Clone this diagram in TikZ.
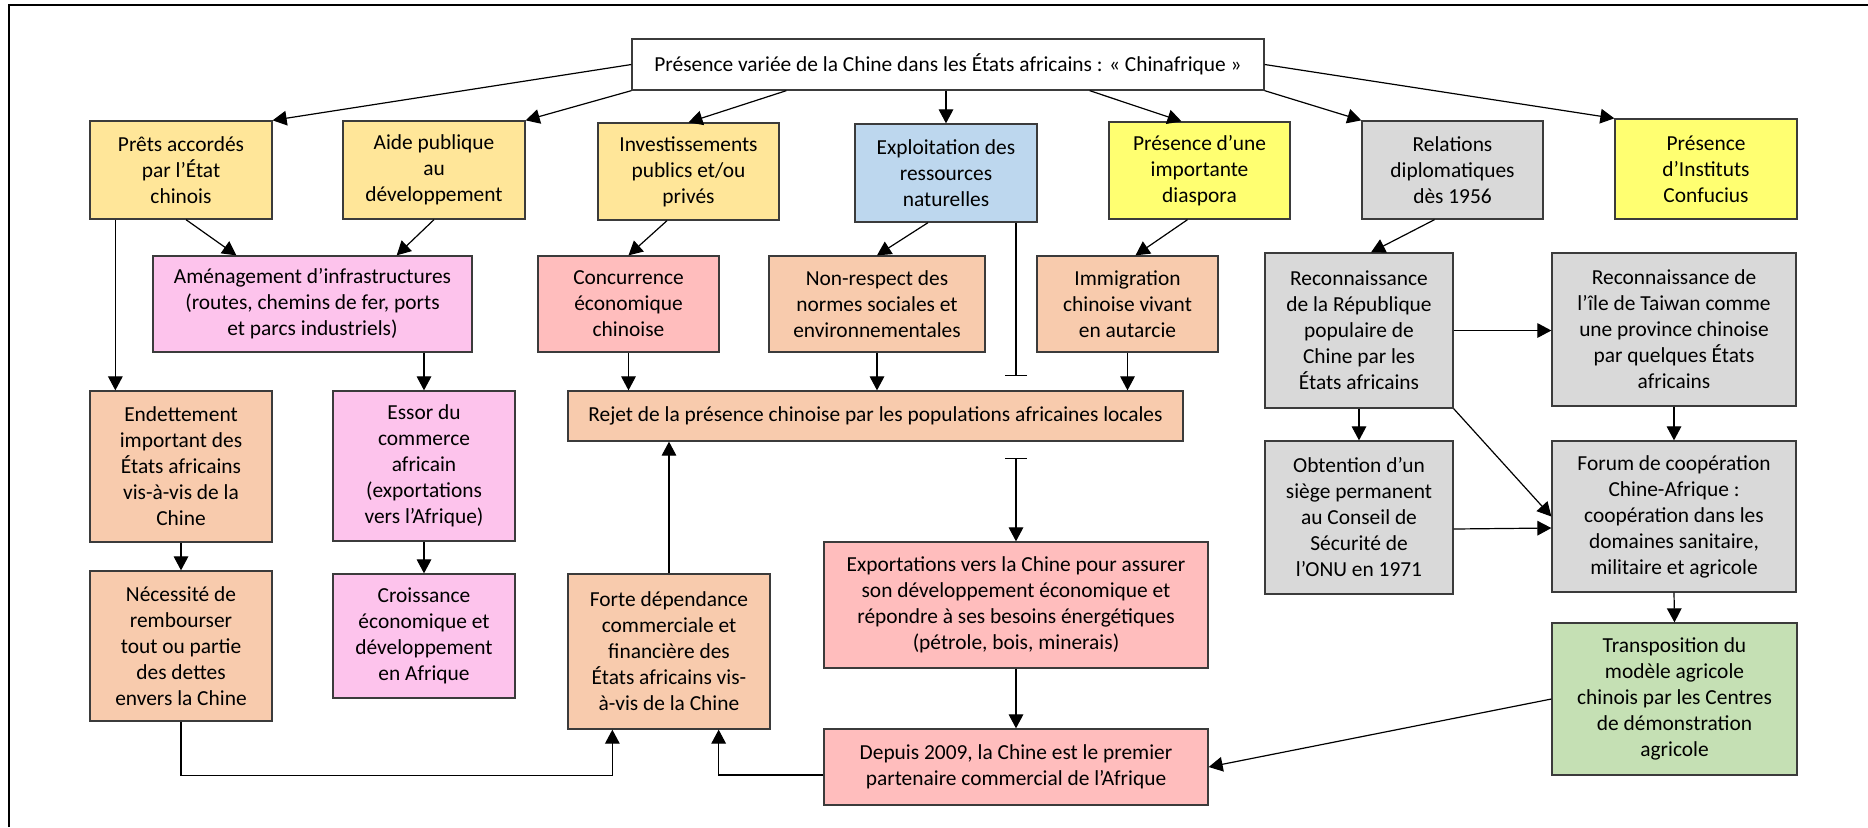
\documentclass[tikz,border=0pt]{standalone}
\usepackage{fontspec}
\setmainfont{Carlito}
\usetikzlibrary{arrows.meta}

\definecolor{gold}{HTML}{FFE699}
\definecolor{sky}{HTML}{BDD7EE}
\definecolor{lemon}{HTML}{FFFF71}
\definecolor{ash}{HTML}{D9D9D9}
\definecolor{orchid}{HTML}{FDC3EC}
\definecolor{salmon}{HTML}{FFBDBD}
\definecolor{peach}{HTML}{F8CBAD}
\definecolor{sage}{HTML}{C5E0B4}
\definecolor{edge}{HTML}{3B3B3B}

\begin{document}
\begin{tikzpicture}[x=0.5pt,y=-0.5pt,
	every node/.style={draw=edge,line width=0.65pt,align=center,inner sep=0pt,font=\fontsize{10.7}{13}\selectfont},
	arr/.style={-{Triangle[length=7pt,width=7.3pt]},line width=0.6pt},
	blocked/.style={-{Bar[width=11pt]},line width=0.6pt}]
		\useasboundingbox (0,0) rectangle (1868,827);
		\draw[line width=0.9pt] (9,827) |- (1868,5);

		%title
		\node[fill=white,minimum width=316pt,minimum height=25.5pt] (title) at (948,64.5) {Présence variée de la Chine dans les États africains : « Chinafrique »};

		%first row
		\node[fill=gold,minimum width=91pt,minimum height=49pt] (prets) at (181,170) {Prêts accordés\\par l’État\\chinois};
		\node[fill=gold,minimum width=91pt,minimum height=49pt] (aide) at (434,170) {Aide publique\\au\\développement};
		\node[fill=gold,minimum width=90.5pt,minimum height=48.5pt] (invest) at (688.5,171.5) {Investissements\\publics et/ou\\privés};
		\node[fill=sky,minimum width=91pt,minimum height=49pt] (exploit) at (946,173) {Exploitation des\\ressources\\naturelles};
		\node[fill=lemon,minimum width=90.5pt,minimum height=48.5pt] (diaspora) at (1199.5,170.5) {Présence d’une\\importante\\diaspora};
		\node[fill=ash,minimum width=90.5pt,minimum height=49pt] (relations) at (1452.5,170) {Relations\\diplomatiques\\dès 1956};
		\node[fill=lemon,minimum width=91pt,minimum height=50pt] (instituts) at (1706,169) {Présence\\d’Instituts\\Confucius};

		%second row
		\node[fill=orchid,minimum width=159.5pt,minimum height=48pt] (amenag) at (312.5,304) {Aménagement d’infrastructures\\(routes, chemins de fer, ports\\et parcs industriels)};
		\node[fill=salmon,minimum width=90.5pt,minimum height=48pt] (concur) at (628.5,304) {Concurrence\\économique\\chinoise};
		\node[fill=peach,minimum width=108pt,minimum height=48pt] (nonresp) at (877,304) {Non-respect des\\normes sociales et\\environnementales};
		\node[fill=peach,minimum width=90.5pt,minimum height=48pt] (immig) at (1127.5,304) {Immigration\\chinoise vivant\\en autarcie};
		\node[fill=ash,minimum width=94pt,minimum height=77.5pt] (reconRP) at (1359,330.5) {Reconnaissance\\de la République\\populaire de\\Chine par les\\États africains};
		\node[fill=ash,minimum width=122pt,minimum height=76.5pt] (taiwan) at (1674,329.5) {Reconnaissance de\\l’île de Taiwan comme\\une province chinoise\\par quelques États\\africains};

		%third row
		\node[fill=peach,minimum width=91pt,minimum height=75.5pt] (endett) at (181,466.5) {Endettement\\important des\\États africains\\vis-à-vis de la\\Chine};
		\node[fill=orchid,minimum width=91pt,minimum height=75pt] (essor) at (424,466) {Essor du\\commerce\\africain\\(exportations\\vers l’Afrique)};
		\node[fill=peach,minimum width=307.5pt,minimum height=25pt] (rejet) at (875.5,416) {Rejet de la présence chinoise par les populations africaines locales};
		\node[fill=ash,minimum width=94pt,minimum height=76.5pt] (obtention) at (1359,517.5) {Obtention d’un\\siège permanent\\au Conseil de\\Sécurité de\\l’ONU en 1971};
		\node[fill=ash,minimum width=122pt,minimum height=75.5pt] (forum) at (1674,516.5) {Forum de coopération\\Chine-Afrique :\\coopération dans les\\domaines sanitaire,\\militaire et agricole};

		%bottom row
		\node[fill=peach,minimum width=91pt,minimum height=75pt] (necess) at (181,646) {Nécessité de\\rembourser\\tout ou partie\\des dettes\\envers la Chine};
		\node[fill=orchid,minimum width=91pt,minimum height=62pt] (croiss) at (424,636) {Croissance\\économique et\\développement\\en Afrique};
		\node[fill=peach,minimum width=101pt,minimum height=77.5pt] (forte) at (669,651.5) {Forte dépendance\\commerciale et\\financière des\\États africains vis-\\à-vis de la Chine};
		\node[fill=salmon,minimum width=192pt,minimum height=63pt] (export) at (1016,605) {Exportations vers la Chine pour assurer\\son développement économique et\\répondre à ses besoins énergétiques\\(pétrole, bois, minerais)};
		\node[fill=salmon,minimum width=192pt,minimum height=38pt] (depuis) at (1016,767) {Depuis 2009, la Chine est le premier\\partenaire commercial de l’Afrique};
		\node[fill=sage,minimum width=122.5pt,minimum height=76pt] (transpo) at (1674.5,699) {Transposition du\\modèle agricole\\chinois par les Centres\\de démonstration\\agricole};

		%edges from the title
		\draw[arr] (title.west) -- (prets.north east);
		\draw[arr] (title.south west) -- (aide.north east);
		\draw[arr] ([xshift=77.5pt]title.south west) -- (invest.north);
		\draw[arr] (title.south -| exploit.north) -- (exploit.north);
		\draw[arr] ([xshift=-87.5pt]title.south east) -- ([xshift=-9pt]diaspora.north);
		\draw[arr] (title.south east) -- (relations.north west);
		\draw[arr] (title.east) -- (instituts.north west);

		%edges below the first row
		\draw[arr] ([xshift=13pt]prets.south west) -- ([xshift=13pt]endett.north west);
		\draw[arr] ([xshift=2.5pt]prets.south) -- ([xshift=42pt]amenag.north west);
		\draw[arr] (aide.south) -- ([xshift=-38pt]amenag.north east);
		\draw[arr] ([xshift=-10.75pt]invest.south) -- (concur.north);
		\draw[arr] ([xshift=-9pt]exploit.south) -- (nonresp.north);
		\draw[blocked,shorten >=7pt] (exploit.south -| export.north) -- (rejet.north -| export.north);
		\draw[arr] ([xshift=-6pt]diaspora.south) -- ([xshift=4pt]immig.north);
		\draw[arr] ([xshift=-9pt]relations.south) -- ([xshift=6pt]reconRP.north);

		%edges below the second row
		\draw[arr] (amenag.south -| essor.north) -- (essor.north);
		\draw[arr] (concur.south) -- (concur.south |- rejet.north);
		\draw[arr] (nonresp.south) -- (nonresp.south |- rejet.north);
		\draw[arr] (immig.south) -- (immig.south |- rejet.north);
		\draw[arr] (reconRP.east) -- (reconRP.east -| taiwan.west);
		\draw[arr] (reconRP.south) -- (obtention.north);
		\draw[arr] (reconRP.south east) -- (forum.west);
		\draw[arr] (taiwan.south) -- (forum.north);
		\draw[arr] ([yshift=-5.75pt]obtention.east) -- ([yshift=-5.75pt]forum.west);
		\draw[arr] (forum.south) -- (transpo.north);
		\draw[arr] (transpo.west) -- (depuis.east);

		%edges at the bottom
		\draw[arr] (endett.south) -- (necess.north);
		\draw[arr] (essor.south) -- (croiss.north);
		\draw[arr] (forte.north) -- (forte.north |- rejet.south);
		\draw[{Bar[width=11pt]}-{Triangle[length=7pt,width=7.3pt]},line width=0.6pt,shorten <=8pt] (rejet.south -| export.north) -- (export.north);
		\draw[arr] (export.south) -- (depuis.north);
		\draw[arr] (necess.south) -- ++(0,-27pt) -| ([xshift=22.5pt]forte.south west);
		\draw[arr] ([yshift=-4pt]depuis.west) -| ([xshift=-26pt]forte.south east);
\end{tikzpicture}
\end{document}
